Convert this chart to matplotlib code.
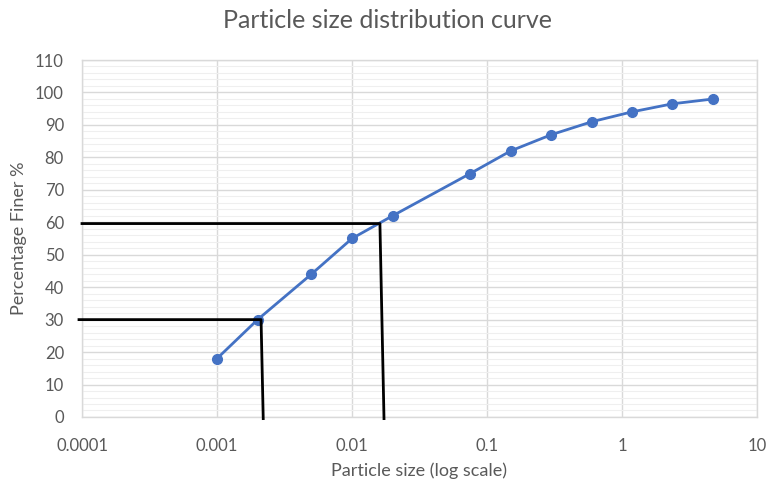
import matplotlib
matplotlib.use("Agg")
import matplotlib.pyplot as plt
from matplotlib.ticker import FixedLocator, FuncFormatter, MultipleLocator

plt.rcParams['font.family'] = ['Lato', 'DejaVu Sans']

# sieve / hydrometer results
size_mm = [0.001, 0.002, 0.005, 0.01, 0.02, 0.075, 0.15, 0.3, 0.6, 1.18, 2.36, 4.75]
finer_pct = [18, 30, 44, 55, 62, 75, 82, 87, 91, 94, 96.5, 98]

# construction lines for D30 and D60
d30_x = [0.000095, 0.00212, 0.0022]
d30_y = [30, 30, -0.5]
d60_x = [0.0001, 0.0161, 0.01726]
d60_y = [59.6, 59.6, -0.5]

grey = '#595959'

fig = plt.figure(figsize=(7.7, 4.82), dpi=100)
ax = fig.add_axes([0.1065, 0.1349, 0.8766, 0.7406])

ax.set_xscale('log')
ax.set_xlim(0.0001, 10)
ax.set_ylim(0, 110)

ax.xaxis.set_major_locator(FixedLocator([0.0001, 0.001, 0.01, 0.1, 1, 10]))
ax.xaxis.set_minor_locator(FixedLocator([]))
ax.xaxis.set_major_formatter(FuncFormatter(lambda v, p: '{:g}'.format(v)))
ax.yaxis.set_major_locator(MultipleLocator(10))
ax.yaxis.set_minor_locator(MultipleLocator(2))

ax.grid(which='major', color='#d9d9d9', linewidth=1.0)
ax.grid(which='minor', axis='y', color='#efefef', linewidth=0.8)
ax.set_axisbelow(True)
for s in ax.spines.values():
    s.set_color('#d9d9d9')
    s.set_linewidth(1.0)

ax.tick_params(which='both', length=0, colors=grey, labelsize=12)
ax.tick_params(axis='x', pad=15)
ax.tick_params(axis='y', pad=13)

ax.plot(size_mm, finer_pct, color='#4472C4', linewidth=2, marker='o',
        markersize=7, zorder=3)

ax.plot(d60_x, d60_y, color='black', linewidth=2, clip_on=False, zorder=4)
ax.plot(d30_x, d30_y, color='black', linewidth=2, clip_on=False, zorder=4)

fig.text(0.503, 0.958, 'Particle size distribution curve', color=grey,
         fontsize=18, ha='center', va='center')
ax.set_xlabel('Particle size (log scale)', color=grey, fontsize=13, labelpad=6)
ax.set_ylabel('Percentage Finer %', color=grey, fontsize=13, labelpad=6)

fig.savefig('out.png', dpi=100)
